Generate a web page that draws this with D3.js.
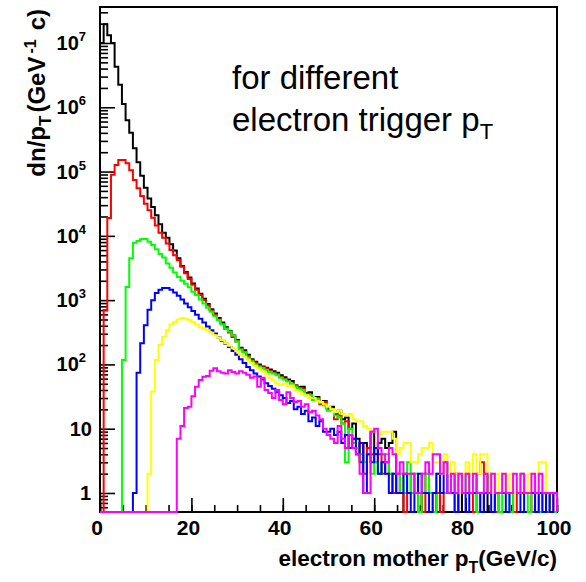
<!DOCTYPE html>
<html><head><meta charset="utf-8">
<script src="https://cdn.jsdelivr.net/npm/d3@7"></script>
<style>body{margin:0;background:#fff}svg{display:block}</style>
</head><body>
<script>
// Electron-mother pT spectra, 0.8 GeV/c bins from 0 to 100 GeV/c
const binWidth = 0.8;
const xMinorTicks = d3.range(0, 101, 5);
const xMajorTicks = [0, 20, 40, 60, 80, 100];
const yDecades = [0, 1, 2, 3, 4, 5, 6, 7];

const black = [10000000,19500000,13200000,10000000,4270000,2240000,1120000,630000,400000,230000,
140000,86000,56000,38000,28200,20900,15100,11200,9300,7400,
5900,4470,3390,2750,2240,1820,1510,1260,1050,870,
724,617,525,447,380,331,282,240,182,166,
141,120,110,100,93,89,83,78,74,68,
63,58,55,47,44,45,36,37,30,31,
26,27,21,22,17,19,14,15,10,12,
7,3,6,5,9,4,6,7,5,6,
9,1,1,0,0,0,0,1,0,0,
0,0,1,0,0,0,0,0,1,0,
0,0,0,0,0,1,0,0,0,0,
0,0,0,0,0,0,0,0,0,0,
0,0,0,0,0];

const red = [0,700,19000,89000,126000,151000,151000,135000,105000,74000,
55000,41700,31600,25100,19100,14500,11200,9300,7600,6000,
5000,4170,3310,2630,2140,1740,1450,1200,1000,830,
690,590,500,425,360,315,268,228,175,158,
135,116,106,95,90,86,80,74,71,64,
60,55,50,47,43,42,35,34,29,30,
24,26,20,20,14,16,12,13,8,7,
4,6,2,5,4,3,4,2,3,2,
1,2,1,0,1,2,1,1,0,2,
1,1,1,0,1,1,1,2,1,1,
1,1,0,2,3,2,1,1,0,1,
1,1,1,0,1,1,1,1,0,1,
1,1,0,1,0];

const green = [0,0,0,0,0,0,117,1600,4500,7800,
8300,8900,8900,8100,7200,6200,5200,4600,3700,3200,
2700,2300,2000,1800,1580,1350,1200,1020,890,760,
660,560,490,417,363,324,282,230,170,155,
128,112,100,92,88,82,76,72,68,62,
58,54,50,45,42,40,33,33,28,29,
25,23,19,20,16,15,12,3,10,6,
5,4,3,4,2,3,2,3,4,2,
2,1,2,1,3,1,2,0,1,2,
1,0,2,1,1,2,1,0,1,1,
2,1,1,0,1,1,2,1,1,0,
1,1,0,1,1,2,1,0,1,1,
0,1,1,0,0];

const blue = [0,0,0,0,0,0,0,0,0,1,
74,214,407,708,1000,1290,1450,1550,1550,1450,
1320,1175,1020,890,776,676,590,513,447,389,
339,302,263,234,209,186,162,141,120,105,
91,81,72,65,58,51,46,42,37,33,
30,25,27,20,22,17,19,13,15,11,
13,9,9,10,8,9,6,8,5,7,
4,6,1,4,3,5,2,3,2,1,
2,1,1,2,1,0,1,2,1,1,
0,1,2,1,3,1,1,0,1,1,
0,1,1,1,0,1,1,0,1,1,
1,0,1,1,1,0,1,1,1,0,
1,0,1,0,1];

const yellow = [0,0,0,0,0,0,0,0,0,0,
0,0,0,2,38,117,200,270,340,417,
457,500,525,513,490,457,417,380,355,340,
310,285,260,240,214,195,178,160,141,132,
118,105,95,87,78,70,62,56,50,48,
50,46,47,40,38,35,33,30,30,27,
26,24,22,20,18,19,17,16,17,14,
13,13,11,10,9,10,8,9,9,9,
7,4,5,6,6,3,3,4,5,5,
6,3,3,2,4,2,3,2,1,2,
3,2,4,2,4,4,2,1,2,1,
2,1,2,1,1,2,1,2,2,1,
3,3,1,1,1];

const magenta = [0,0,0,0,0,0,0,0,0,0,
0,0,0,0,0,0,0,0,0,0,
0,7,11,21,22,32,45,57,64,66,
80,87,78,74,72,81,76,72,78,74,
69,62,65,45,62,40,36,30,40,28,
24,37,30,26,27,22,24,18,19,16,
14,10,8,7,6,11,7,5,8,5,
4,2,1,1,9,10,5,4,3,5,
4,2,3,2,2,2,1,1,2,3,
2,4,4,2,3,1,2,1,2,1,
2,1,2,1,1,2,1,2,1,1,
2,1,1,2,1,2,1,1,2,1,
2,1,1,1,1];

const seriesList = [black, red, green, blue, yellow, magenta];
const seriesColors = ["#000000", "#ff0000", "#00ff00", "#0000ff", "#ffff00", "#ff00ff"];

const W = 586, H = 582;
const plotLeft = 100, plotRight = 557, plotTop = 7, plotBottom = 512;
const font = "'Liberation Sans', Arial, Helvetica, sans-serif";

const x = d3.scaleLinear().domain([0, 100]).range([plotLeft, plotRight]);
const y = d3.scaleLog().domain([0.506, 3.63e7]).range([plotBottom, plotTop]).clamp(true);

const svg = d3.select("body").append("svg").attr("width", W).attr("height", H)
  .style("font-family", font);

svg.append("rect").attr("width", W).attr("height", H).attr("fill", "#fff");

// frame
svg.append("rect").attr("x", plotLeft).attr("y", plotTop)
  .attr("width", plotRight - plotLeft).attr("height", plotBottom - plotTop)
  .attr("fill", "none").attr("stroke", "#000").attr("stroke-width", 2);

function styleAxis(g) {
  g.select(".domain").remove();
  g.selectAll(".tick line").attr("stroke", "#000").attr("stroke-width", 1.6);
}
// x axis ticks (inward)
svg.append("g").attr("transform", `translate(0,${plotBottom})`)
  .call(d3.axisBottom(x).tickValues(xMinorTicks).tickSize(-7).tickFormat(""))
  .call(styleAxis);
svg.append("g").attr("transform", `translate(0,${plotBottom})`)
  .call(d3.axisBottom(x).tickValues(xMajorTicks).tickSize(-14).tickFormat(""))
  .call(styleAxis);

// y axis ticks (inward), log decades and 2..9 subdivisions
const yMajor = yDecades.map(d => Math.pow(10, d));
const yMinor = [];
for (let d = -1; d <= 7; d++) {
  for (let k = 2; k <= 9; k++) {
    const v = k * Math.pow(10, d);
    if (v >= y.domain()[0] && v <= y.domain()[1]) yMinor.push(v);
  }
}
svg.append("g").attr("transform", `translate(${plotLeft},0)`)
  .call(d3.axisLeft(y).tickValues(yMinor).tickSize(-8).tickFormat(""))
  .call(styleAxis);
svg.append("g").attr("transform", `translate(${plotLeft},0)`)
  .call(d3.axisLeft(y).tickValues(yMajor).tickSize(-15).tickFormat(""))
  .call(styleAxis);

// x tick labels
svg.append("g").selectAll("text").data(xMajorTicks).join("text")
  .attr("x", d => x(d) - 3).attr("y", 535)
  .attr("text-anchor", "middle").attr("font-size", 21).attr("font-weight", "bold")
  .text(d => d);

// y tick labels
const yl = svg.append("g").attr("font-size", 20).attr("font-weight", "bold");
yDecades.forEach(d => {
  const yy = y(Math.pow(10, d)) + 7;
  if (d === 0) {
    yl.append("text").attr("x", 91).attr("y", yy).attr("text-anchor", "end").text("1");
  } else if (d === 1) {
    yl.append("text").attr("x", 92).attr("y", yy).attr("text-anchor", "end").text("10");
  } else {
    const t = yl.append("text").attr("x", 86).attr("y", yy).attr("text-anchor", "end");
    t.append("tspan").text("10");
    t.append("tspan").attr("font-size", 13).attr("dy", -9).text(d);
  }
});

// histograms
const clip = svg.append("clipPath").attr("id", "plotclip");
clip.append("rect").attr("x", plotLeft - 2).attr("y", plotTop)
  .attr("width", plotRight - plotLeft + 4).attr("height", plotBottom - plotTop + 1);

const line = d3.line().x(p => p[0]).y(p => p[1]);
seriesList.forEach((vals, si) => {
  const pts = [[x(0), plotBottom]];
  vals.forEach((v, i) => {
    const yy = v > 0 ? y(v) : plotBottom;
    pts.push([x(i * binWidth), yy]);
    pts.push([x((i + 1) * binWidth), yy]);
  });
  pts.push([x(vals.length * binWidth), plotBottom]);
  svg.append("path").attr("d", line(pts))
    .attr("fill", "none").attr("stroke", seriesColors[si])
    .attr("stroke-width", 2).attr("stroke-linejoin", "miter")
    .attr("clip-path", "url(#plotclip)");
});

// axis titles
const xt = svg.append("text").attr("x", plotRight).attr("y", 566)
  .attr("text-anchor", "end").attr("font-size", 22.5).attr("font-weight", "bold");
xt.append("tspan").text("electron mother p");
xt.append("tspan").attr("font-size", 16).attr("dy", 7).text("T");
xt.append("tspan").attr("dy", -7).text("(GeV/c)");

const ytitle = svg.append("text")
  .attr("transform", "translate(45,9) rotate(-90)")
  .attr("text-anchor", "end").attr("font-size", 24).attr("font-weight", "bold");
ytitle.append("tspan").text("dn/p");
ytitle.append("tspan").attr("font-size", 17).attr("dy", 6).text("T");
ytitle.append("tspan").attr("dy", -6).attr("dx", 3).text("(GeV");
ytitle.append("tspan").attr("font-size", 16).attr("dy", -9).attr("dx", 3).text("-1");
ytitle.append("tspan").attr("dy", 9).attr("dx", 9).text("c)");

// annotation
const ann = svg.append("g").attr("fill", "#000").attr("font-size", 33);
ann.append("text").attr("x", 232).attr("y", 89).text("for different");
const a2 = ann.append("text").attr("x", 232).attr("y", 131);
a2.append("tspan").text("electron trigger p");
a2.append("tspan").attr("font-size", 22).attr("dy", 8).text("T");
</script>
</body></html>
